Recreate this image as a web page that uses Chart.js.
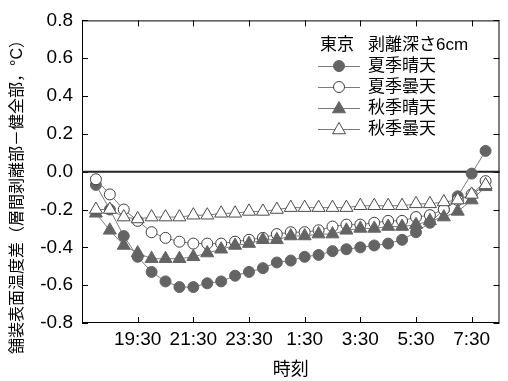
<!DOCTYPE html>
<html>
<head>
<meta charset="utf-8">
<script src="https://cdn.jsdelivr.net/npm/chart.js@4/dist/chart.umd.min.js"></script>
<style>
    html, body { margin: 0; padding: 0; background: #fff; }
    #wrap { width: 508px; height: 381px; }
</style>
</head>
<body>
<div id="wrap"><canvas id="tempChart" width="508" height="381"></canvas></div>
<script>
const FONT = "'Liberation Sans', Arial, 'Noto Sans CJK JP', sans-serif";

// measurement times, every 30 min from 18:00 to 8:00
const times = ['18:00', '18:30', '19:00', '19:30', '20:00', '20:30', '21:00', '21:30', '22:00', '22:30',
    '23:00', '23:30', '0:00', '0:30', '1:00', '1:30', '2:00', '2:30', '3:00', '3:30',
    '4:00', '4:30', '5:00', '5:30', '6:00', '6:30', '7:00', '7:30', '8:00'];
const tickLabels = ['19:30', '21:30', '23:30', '1:30', '3:30', '5:30', '7:30'];

const summerSunny = [-0.07, -0.20, -0.34, -0.45, -0.53, -0.58, -0.61, -0.61, -0.59, -0.58,
    -0.55, -0.53, -0.51, -0.48, -0.47, -0.45, -0.44, -0.42, -0.41, -0.40,
    -0.39, -0.38, -0.36, -0.32, -0.27, -0.20, -0.13, -0.01, 0.11];
const summerCloudy = [-0.04, -0.12, -0.20, -0.26, -0.32, -0.35, -0.37, -0.38, -0.38, -0.38,
    -0.37, -0.36, -0.35, -0.33, -0.32, -0.32, -0.31, -0.29, -0.28, -0.28,
    -0.27, -0.26, -0.26, -0.24, -0.23, -0.20, -0.15, -0.12, -0.05];
const autumnSunny = [-0.22, -0.31, -0.39, -0.43, -0.46, -0.46, -0.46, -0.45, -0.43, -0.41,
    -0.39, -0.38, -0.36, -0.36, -0.34, -0.34, -0.33, -0.33, -0.31, -0.30,
    -0.30, -0.29, -0.29, -0.28, -0.26, -0.24, -0.21, -0.15, -0.08];
const autumnCloudy = [-0.20, -0.20, -0.24, -0.25, -0.24, -0.24, -0.24, -0.23, -0.23, -0.22,
    -0.22, -0.21, -0.21, -0.20, -0.19, -0.19, -0.19, -0.19, -0.19, -0.18,
    -0.18, -0.18, -0.18, -0.17, -0.17, -0.16, -0.15, -0.12, -0.07];

const seriesNames = ['夏季晴天', '夏季曇天', '秋季晴天', '秋季曇天'];
const legendTitle = ['東京', '剥離深さ6cm'];
const yTitle = '舗装表面温度差（層間剥離部－健全部，°C）';
const xTitle = '時刻';

// hours after midnight of the first evening (morning times get +24)
function toHours(t) {
    const [h, m] = t.split(':').map(Number);
    const hours = h + m / 60;
    return hours < 12 ? hours + 24 : hours;
}

function toPoints(values) {
    return values.map((v, i) => ({ x: toHours(times[i]), y: v }));
}

const styles = [
    { pointStyle: 'circle', radius: 5.5, fill: '#646464', stroke: '#646464' },
    { pointStyle: 'circle', radius: 5.5, fill: '#ffffff', stroke: '#3c3c3c' },
    { pointStyle: 'triangle', radius: 7.5, fill: '#646464', stroke: '#646464' },
    { pointStyle: 'triangle', radius: 7.5, fill: '#ffffff', stroke: '#4a4a4a' }
];

const allSeries = [summerSunny, summerCloudy, autumnSunny, autumnCloudy];

const datasets = allSeries.map((values, i) => ({
    label: seriesNames[i],
    data: toPoints(values),
    borderColor: '#7a7a7a',
    borderWidth: 1,
    pointStyle: styles[i].pointStyle,
    pointRadius: styles[i].radius,
    pointBackgroundColor: styles[i].fill,
    pointBorderColor: styles[i].stroke,
    pointBorderWidth: 1,
    tension: 0,
    fill: false,
    order: allSeries.length - i
}));

function drawMarker(ctx, style, x, y) {
    ctx.save();
    ctx.fillStyle = style.fill;
    ctx.strokeStyle = style.stroke;
    ctx.lineWidth = 1;
    ctx.beginPath();
    if (style.pointStyle === 'circle') {
        ctx.arc(x, y, style.radius, 0, Math.PI * 2);
    } else {
        const r = style.radius;
        let a = 0;
        ctx.moveTo(x + Math.sin(a) * r, y - Math.cos(a) * r);
        a += Math.PI * 2 / 3;
        ctx.lineTo(x + Math.sin(a) * r, y - Math.cos(a) * r);
        a += Math.PI * 2 / 3;
        ctx.lineTo(x + Math.sin(a) * r, y - Math.cos(a) * r);
        ctx.closePath();
    }
    ctx.fill();
    ctx.stroke();
    ctx.restore();
}

// frame, inward ticks and zero line
const framePlugin = {
    id: 'frame',
    beforeDatasetsDraw(chart) {
        const { ctx, chartArea: a, scales } = chart;
        ctx.save();
        ctx.strokeStyle = '#000';
        ctx.lineWidth = 1;
        ctx.strokeRect(a.left + 0.5, a.top + 0.5, a.right - a.left - 1, a.bottom - a.top - 1);
        const len = 6;
        ctx.beginPath();
        scales.x.ticks.forEach(t => {
            const px = Math.round(scales.x.getPixelForValue(t.value)) + 0.5;
            ctx.moveTo(px, a.bottom);
            ctx.lineTo(px, a.bottom - len);
            ctx.moveTo(px, a.top);
            ctx.lineTo(px, a.top + len);
        });
        scales.y.ticks.forEach(t => {
            const py = Math.round(scales.y.getPixelForValue(t.value)) + 0.5;
            ctx.moveTo(a.left, py);
            ctx.lineTo(a.left + len, py);
            ctx.moveTo(a.right, py);
            ctx.lineTo(a.right - len, py);
        });
        ctx.stroke();

        const zero = scales.y.getPixelForValue(0);
        ctx.strokeStyle = '#222';
        ctx.lineWidth = 2;
        ctx.beginPath();
        ctx.moveTo(a.left, zero);
        ctx.lineTo(a.right, zero);
        ctx.stroke();
        ctx.restore();
    },
    afterDraw(chart) {
        const { ctx } = chart;
        ctx.save();
        ctx.fillStyle = '#000';
        ctx.textBaseline = 'middle';

        // y axis title
        ctx.save();
        ctx.font = '16px ' + FONT;
        ctx.translate(18, 193);
        ctx.rotate(-Math.PI / 2);
        ctx.textAlign = 'center';
        ctx.fillText(yTitle, 0, 0);
        ctx.restore();

        // legend inside the plot
        ctx.font = '17px ' + FONT;
        ctx.textAlign = 'left';
        ctx.fillText(legendTitle[0], 320, 45);
        ctx.fillText(legendTitle[1], 368, 45);
        seriesNames.forEach((name, i) => {
            const y = 66 + i * 21;
            ctx.strokeStyle = '#7a7a7a';
            ctx.lineWidth = 1;
            ctx.beginPath();
            ctx.moveTo(318, y + 0.5);
            ctx.lineTo(360, y + 0.5);
            ctx.stroke();
            drawMarker(ctx, styles[i], 339, y + (styles[i].pointStyle === 'triangle' ? 1 : 0));
            ctx.fillStyle = '#000';
            ctx.fillText(name, 368, y);
        });
        ctx.restore();
    }
};

const ctx = document.getElementById('tempChart').getContext('2d');
const tempChart = new Chart(ctx, {
    type: 'line',
    data: { datasets: datasets },
    options: {
        responsive: false,
        animation: false,
        layout: { padding: { top: 19, right: 4, left: 0, bottom: 0 } },
        plugins: {
            legend: { display: false },
            tooltip: { enabled: false }
        },
        scales: {
            x: {
                type: 'linear',
                min: 17.5,
                max: 32.5,
                afterBuildTicks: (scale) => {
                    scale.ticks = tickLabels.map(t => ({ value: toHours(t) }));
                },
                afterFit: (scale) => { scale.height = 58; },
                grid: { display: false, drawTicks: false },
                border: { display: false },
                ticks: {
                    autoSkip: false,
                    maxRotation: 0,
                    padding: 5,
                    color: '#000',
                    font: { family: FONT, size: 19 },
                    callback: (value, index) => tickLabels[index]
                },
                title: {
                    display: true,
                    text: xTitle,
                    color: '#000',
                    font: { family: FONT, size: 18 },
                    padding: { top: 2, bottom: 0 }
                }
            },
            y: {
                min: -0.8,
                max: 0.8,
                afterFit: (scale) => { scale.width = 82; },
                grid: { display: false, drawTicks: false },
                border: { display: false },
                ticks: {
                    stepSize: 0.2,
                    padding: 9,
                    color: '#000',
                    font: { family: FONT, size: 19 },
                    callback: (v) => Math.abs(v) < 1e-9 ? '0.0' : v.toFixed(1)
                }
            }
        }
    },
    plugins: [framePlugin]
});
</script>
</body>
</html>
